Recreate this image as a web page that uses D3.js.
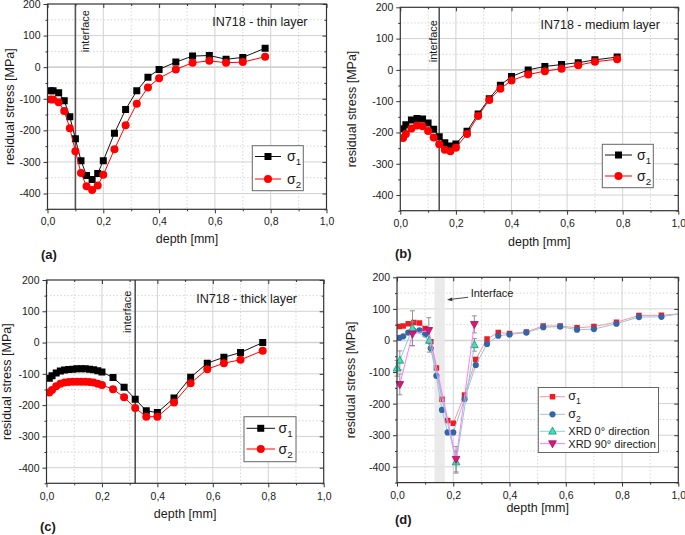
<!DOCTYPE html>
<html><head><meta charset="utf-8">
<script src="https://cdn.jsdelivr.net/npm/d3@7"></script>
<style>body{margin:0;background:#fff}svg{display:block}text{font-family:"Liberation Sans",Arial,sans-serif;fill:#1a1a1a}</style>
</head><body><svg id="c" width="685" height="535"></svg>
<script>
// ---------- data ----------
const xTicks = [0, 0.2, 0.4, 0.6, 0.8, 1.0];
const xMinor = [0.1, 0.3, 0.5, 0.7, 0.9];
const yTicks = [-400, -300, -200, -100, 0, 100, 200];
const yMinor = [-450, -350, -250, -150, -50, 50, 150];

const depthThin = [0.01,0.02,0.04,0.06,0.08,0.10,0.12,0.14,0.16,0.18,0.20,0.24,0.28,0.32,0.36,0.40,0.46,0.52,0.58,0.64,0.70,0.78];
const thinS1 = [-75,-75,-81,-106,-157,-227,-296,-343,-356,-337,-296,-209,-134,-75,-32,-7,16,35,37,25,31,60];
const thinS2 = [-102,-102,-111,-139,-193,-266,-335,-377,-389,-375,-341,-260,-184,-116,-64,-35,-7,14,20,14,16,33];

const depthMedium = [0.01,0.02,0.04,0.06,0.08,0.10,0.12,0.14,0.16,0.18,0.20,0.24,0.28,0.32,0.36,0.40,0.46,0.52,0.58,0.64,0.70,0.78];
const mediumS1 = [-188,-175,-160,-155,-157,-170,-190,-214,-233,-243,-237,-196,-141,-92,-49,-21,0,11,17,23,32,41];
const mediumS2 = [-218,-205,-187,-178,-180,-195,-216,-238,-255,-260,-249,-205,-147,-96,-60,-34,-15,-4,4,15,26,34];

const depthThick = [0.01,0.02,0.035,0.05,0.065,0.08,0.095,0.11,0.125,0.14,0.155,0.17,0.185,0.20,0.24,0.28,0.32,0.36,0.40,0.46,0.52,0.58,0.64,0.70,0.78];
const thickS1 = [-114,-106,-97,-91,-88,-86,-85,-84,-84,-84,-85,-87,-90,-94,-112,-143,-181,-218,-224,-177,-111,-66,-47,-32,0];
const thickS2 = [-160,-152,-140,-132,-128,-126,-125,-125,-125,-125,-126,-128,-132,-136,-149,-175,-209,-237,-237,-192,-130,-85,-66,-55,-26];

const depthD = [0.008,0.022,0.04,0.06,0.08,0.10,0.12,0.14,0.16,0.18,0.20,0.24,0.28,0.32,0.36,0.40,0.46,0.52,0.58,0.64,0.70,0.78,0.86,0.94,1.02];
const dS1 = [44,46,53,57,55,38,-4,-87,-186,-253,-262,-173,-60,5,25,22,27,46,46,40,44,58,79,80,85];
const dS2 = [8,13,25,30,32,19,-25,-112,-220,-291,-291,-186,-78,-11,15,19,25,42,44,34,36,53,74,75,87];
const xrd0Depth = [0.0,0.01,0.055,0.115,0.21,0.275];
const xrd0 = [-88,-63,39,0,-385,-14];
const xrd0Err = [25,30,55,37,35,20];
const xrd90Depth = [0.01,0.055,0.113,0.21,0.275];
const xrd90 = [-139,21,32,-376,51];
const xrd90Err = [33,38,40,40,27];

const interfaceDepths = {a: 0.10, b: 0.14, c: 0.32};
const bandD = [0.133, 0.17];

// ---------- drawing ----------
const svg = d3.select("#c");
const fmtX = d => d3.format(".1f")(d).replace(".", ",");
const fmtY = d => String(d);
let clipId = 0;

function makePanel(p) {
  const x = d3.scaleLinear().domain([0, 1]).range([p.x0, p.x1]);
  const y = d3.scaleLinear().domain([-450, 200]).range([p.yb, p.yt]);
  const g = svg.append("g");
  const id = "clip" + (clipId++);
  svg.append("defs").append("clipPath").attr("id", id)
    .append("rect").attr("x", p.x0).attr("y", p.yt).attr("width", p.x1 - p.x0).attr("height", p.yb - p.yt);
  // grid
  const grid = g.append("g");
  xMinor.forEach(v => grid.append("line").attr("x1", x(v)).attr("x2", x(v)).attr("y1", p.yt).attr("y2", p.yb)
    .attr("stroke", "#d6d6d6").attr("stroke-dasharray", "1.5,2"));
  yMinor.forEach(v => grid.append("line").attr("y1", y(v)).attr("y2", y(v)).attr("x1", p.x0).attr("x2", p.x1)
    .attr("stroke", "#d6d6d6").attr("stroke-dasharray", "1.5,2"));
  xTicks.slice(1, -1).forEach(v => grid.append("line").attr("x1", x(v)).attr("x2", x(v)).attr("y1", p.yt).attr("y2", p.yb)
    .attr("stroke", "#d2d2d2"));
  yTicks.slice(0, -1).forEach(v => grid.append("line").attr("y1", y(v)).attr("y2", y(v)).attr("x1", p.x0).attr("x2", p.x1)
    .attr("stroke", "#d2d2d2").attr("stroke-width", v === 0 ? 1.6 : 1));
  const content = g.append("g");
  const data = g.append("g").attr("clip-path", `url(#${id})`);
  const over = g.append("g");
  // axes
  const ax = g.append("g").attr("class", "axes");
  const styleAxis = sel => {
    sel.select(".domain").remove();
    sel.selectAll("line").attr("stroke", "#333");
    sel.selectAll("text").attr("font-size", "10.5px").attr("fill", "#1a1a1a")
      .attr("font-family", '"Liberation Sans",Arial,sans-serif');
  };
  ax.append("g").attr("transform", `translate(0,${p.yb})`)
    .call(d3.axisBottom(x).tickValues(xTicks).tickFormat(fmtX).tickSize(4).tickPadding(p.xPad)).call(styleAxis);
  ax.append("g").attr("transform", `translate(0,${p.yb})`)
    .call(d3.axisBottom(x).tickValues(xMinor).tickFormat("").tickSize(2)).call(styleAxis);
  ax.append("g").attr("transform", `translate(${p.x0},0)`)
    .call(d3.axisLeft(y).tickValues(yTicks).tickFormat(fmtY).tickSize(4).tickPadding(3)).call(styleAxis);
  ax.append("g").attr("transform", `translate(${p.x0},0)`)
    .call(d3.axisLeft(y).tickValues(yMinor).tickFormat("").tickSize(2)).call(styleAxis);
  ax.append("g").attr("transform", `translate(0,${p.yt})`)
    .call(d3.axisTop(x).tickValues(xTicks).tickFormat("").tickSize(-4)).call(styleAxis);
  ax.append("g").attr("transform", `translate(0,${p.yt})`)
    .call(d3.axisTop(x).tickValues(xMinor).tickFormat("").tickSize(-2)).call(styleAxis);
  ax.append("g").attr("transform", `translate(${p.x1},0)`)
    .call(d3.axisRight(y).tickValues(yTicks).tickFormat("").tickSize(-4)).call(styleAxis);
  ax.append("g").attr("transform", `translate(${p.x1},0)`)
    .call(d3.axisRight(y).tickValues(yMinor).tickFormat("").tickSize(-2)).call(styleAxis);
  ax.append("rect").attr("x", p.x0).attr("y", p.yt).attr("width", p.x1 - p.x0).attr("height", p.yb - p.yt)
    .attr("fill", "none").attr("stroke", "#333").attr("stroke-width", 1.2);
  // labels
  g.append("text").attr("x", (p.x0 + p.x1) / 2).attr("y", p.xlabY).attr("text-anchor", "middle")
    .attr("font-size", "12.5px").text("depth [mm]");
  g.append("text").attr("transform", `translate(${p.ylabX},${(p.yt + p.yb) / 2}) rotate(-90)`)
    .attr("text-anchor", "middle").attr("font-size", "12.5px").text("residual stress [MPa]");
  g.append("text").attr("x", p.tagX).attr("y", p.tagY).attr("font-size", "13px").attr("font-weight", "bold").text(p.tag);
  if (p.title) g.append("text").attr("x", p.titleX).attr("y", p.titleY).attr("text-anchor", "end")
    .attr("font-size", "12.5px").text(p.title);
  return {g, x, y, content, data, over, p};
}

const sq = (s) => `M${-s/2},${-s/2}h${s}v${s}h${-s}Z`;
const triUp = (s) => `M0,${-s*0.6}L${s*0.55},${s*0.4}L${-s*0.55},${s*0.4}Z`;
const triDown = (s) => `M0,${s*0.6}L${s*0.55},${-s*0.4}L${-s*0.55},${-s*0.4}Z`;

function drawSeries(layer, P, xs, ys, st) {
  const pts = xs.map((d, i) => [P.x(d), P.y(ys[i])]);
  layer.append("path").attr("d", d3.line()(pts)).attr("fill", "none")
    .attr("stroke", st.line).attr("stroke-width", st.lw || 1);
  layer.selectAll(null).data(pts).enter().append("path")
    .attr("transform", d => `translate(${d[0]},${d[1]})`)
    .attr("d", st.shape === "circle" ? d3.symbol(d3.symbolCircle, Math.PI * st.size * st.size / 4)()
      : st.shape === "up" ? triUp(st.size) : st.shape === "down" ? triDown(st.size) : sq(st.size))
    .attr("fill", st.fill).attr("stroke", st.stroke || "none").attr("stroke-width", 0.8);
}

function legend(P, box, rows) {
  const g = P.g.append("g");
  g.append("rect").attr("x", box[0]).attr("y", box[1]).attr("width", box[2] - box[0]).attr("height", box[3] - box[1])
    .attr("fill", "#fff").attr("stroke", "#666").attr("stroke-width", 1);
  rows.forEach(r => {
    g.append("line").attr("x1", r.lx[0]).attr("x2", r.lx[1]).attr("y1", r.y).attr("y2", r.y)
      .attr("stroke", r.st.line).attr("stroke-width", r.st.lw || 1);
    const mx = (r.lx[0] + r.lx[1]) / 2;
    g.append("path").attr("transform", `translate(${mx},${r.y})`)
      .attr("d", r.st.shape === "circle" ? d3.symbol(d3.symbolCircle, Math.PI * r.st.size * r.st.size / 4)()
        : r.st.shape === "up" ? triUp(r.st.size) : r.st.shape === "down" ? triDown(r.st.size) : sq(r.st.size))
      .attr("fill", r.st.fill).attr("stroke", r.st.stroke || "none").attr("stroke-width", 0.8);
    const t = g.append("text").attr("x", r.tx).attr("y", r.y + r.dy).attr("font-size", r.fs + "px");
    if (r.sub) {
      t.append("tspan").text(r.label);
      t.append("tspan").attr("font-size", (r.fs * 0.7) + "px").attr("dy", r.fs * 0.3).text(r.sub);
    } else t.text(r.label);
  });
}

function interfaceLine(P, d, tx, ty) {
  P.content.append("line").attr("x1", P.x(d)).attr("x2", P.x(d)).attr("y1", P.p.yt).attr("y2", P.p.yb)
    .attr("stroke", "#555").attr("stroke-width", 1.6);
  P.g.append("text").attr("transform", `translate(${tx},${ty}) rotate(-90)`).attr("text-anchor", "end")
    .attr("font-size", "11px").text("interface");
}

const black = {line: "#111", fill: "#000", shape: "sq", size: 7};
const red = {line: "#ff0000", fill: "#ff0000", shape: "circle", size: 8};

// Panel (a)
const A = makePanel({x0: 47.5, x1: 326.5, yt: 4, yb: 209.3, xPad: 4, xlabY: 242.5, ylabX: 14,
  tag: "(a)", tagX: 41, tagY: 258.5, title: "IN718 - thin layer", titleX: 307.5, titleY: 26});
interfaceLine(A, interfaceDepths.a, 89, 10);
drawSeries(A.data, A, depthThin, thinS1, black);
drawSeries(A.data, A, depthThin, thinS2, red);
legend(A, [252.3, 145.7, 303.3, 190.7], [
  {st: black, lx: [255, 281], y: 156.5, tx: 287, dy: 4.5, fs: 14, label: "σ", sub: "1"},
  {st: red, lx: [255, 281], y: 179, tx: 287, dy: 4.5, fs: 14, label: "σ", sub: "2"}]);

// Panel (b)
const B = makePanel({x0: 400.3, x1: 678.3, yt: 7.3, yb: 210.7, xPad: 4.5, xlabY: 246, ylabX: 355.5,
  tag: "(b)", tagX: 395, tagY: 257.5, title: "IN718 - medium layer", titleX: 660, titleY: 28.5});
interfaceLine(B, interfaceDepths.b, 436.5, 20);
drawSeries(B.data, B, depthMedium, mediumS1, black);
drawSeries(B.data, B, depthMedium, mediumS2, red);
legend(B, [602.3, 144.3, 653.3, 187.7], [
  {st: black, lx: [605, 632], y: 155, tx: 637, dy: 4.5, fs: 14, label: "σ", sub: "1"},
  {st: red, lx: [605, 632], y: 176, tx: 637, dy: 4.5, fs: 14, label: "σ", sub: "2"}]);

// Panel (c)
const C = makePanel({x0: 46.5, x1: 323.7, yt: 280, yb: 483.3, xPad: 5.5, xlabY: 518, ylabX: 10.5,
  tag: "(c)", tagX: 40, tagY: 531, title: "IN718 - thick layer", titleX: 297, titleY: 303});
interfaceLine(C, interfaceDepths.c, 130.5, 290.7);
drawSeries(C.data, C, depthThick, thickS1, black);
drawSeries(C.data, C, depthThick, thickS2, red);
legend(C, [244, 416.7, 296, 461.7], [
  {st: black, lx: [246.5, 275], y: 428.3, tx: 278.5, dy: 4.5, fs: 14, label: "σ", sub: "1"},
  {st: red, lx: [246.5, 275], y: 449, tx: 278.5, dy: 4.5, fs: 14, label: "σ", sub: "2"}]);

// Panel (d)
const D = makePanel({x0: 397, x1: 678.3, yt: 277.3, yb: 482.6, xPad: 5, xlabY: 512, ylabX: 355,
  tag: "(d)", tagX: 395, tagY: 524, title: null});
D.content.append("rect").attr("x", D.x(bandD[0])).attr("y", D.p.yt).attr("width", D.x(bandD[1]) - D.x(bandD[0]))
  .attr("height", D.p.yb - D.p.yt).attr("fill", "#e6e6e6").attr("opacity", 0.85);
const stS1 = {line: "#f29a9a", fill: "#ee1c24", shape: "sq", size: 5.5};
const stS2 = {line: "#9fbde0", fill: "#3565a6", shape: "circle", size: 6.2};
const stX0 = {line: "#7fd6cf", fill: "#3fe0b4", stroke: "#1f8f78", shape: "up", size: 7};
const stX90 = {line: "#ff7dff", fill: "#e0157a", stroke: "#a0105a", shape: "down", size: 7};
drawSeries(D.data, D, depthD, dS1, stS1);
drawSeries(D.data, D, depthD, dS2, stS2);
// error bars
function errBars(xs, ys, es) {
  xs.forEach((d, i) => {
    const px = D.x(d), y1 = D.y(ys[i] + es[i]), y2 = D.y(ys[i] - es[i]);
    D.over.append("line").attr("x1", px).attr("x2", px).attr("y1", y1).attr("y2", y2).attr("stroke", "#888").attr("stroke-width", 0.9);
    [y1, y2].forEach(yy => D.over.append("line").attr("x1", px - 2.5).attr("x2", px + 2.5).attr("y1", yy).attr("y2", yy)
      .attr("stroke", "#888").attr("stroke-width", 0.9));
  });
}
errBars(xrd0Depth, xrd0, xrd0Err);
errBars(xrd90Depth, xrd90, xrd90Err);
drawSeries(D.over, D, xrd0Depth, xrd0, stX0);
drawSeries(D.over, D, xrd90Depth, xrd90, stX90);
// interface annotation
D.g.append("text").attr("x", 470.7).attr("y", 297).attr("font-size", "11px").text("Interface");
D.g.append("line").attr("x1", 468).attr("y1", 297.3).attr("x2", 450).attr("y2", 299.4).attr("stroke", "#333").attr("stroke-width", 0.9);
D.g.append("path").attr("d", "M447,299.7 L452,297.4 L452.4,301.2 Z").attr("fill", "#333");
legend(D, [538.3, 387.5, 658.5, 452.5], [
  {st: stS1, lx: [540, 565], y: 396.7, tx: 568.3, dy: 3.5, fs: 12.5, label: "σ", sub: "1"},
  {st: stS2, lx: [540, 565], y: 414.3, tx: 568.3, dy: 3.5, fs: 12.5, label: "σ", sub: "2"},
  {st: stX0, lx: [540, 565], y: 431.3, tx: 568.3, dy: 4, fs: 11, label: "XRD 0° direction"},
  {st: stX90, lx: [540, 565], y: 443.6, tx: 568.3, dy: 4, fs: 11, label: "XRD 90° direction"}]);
</script></body></html>
